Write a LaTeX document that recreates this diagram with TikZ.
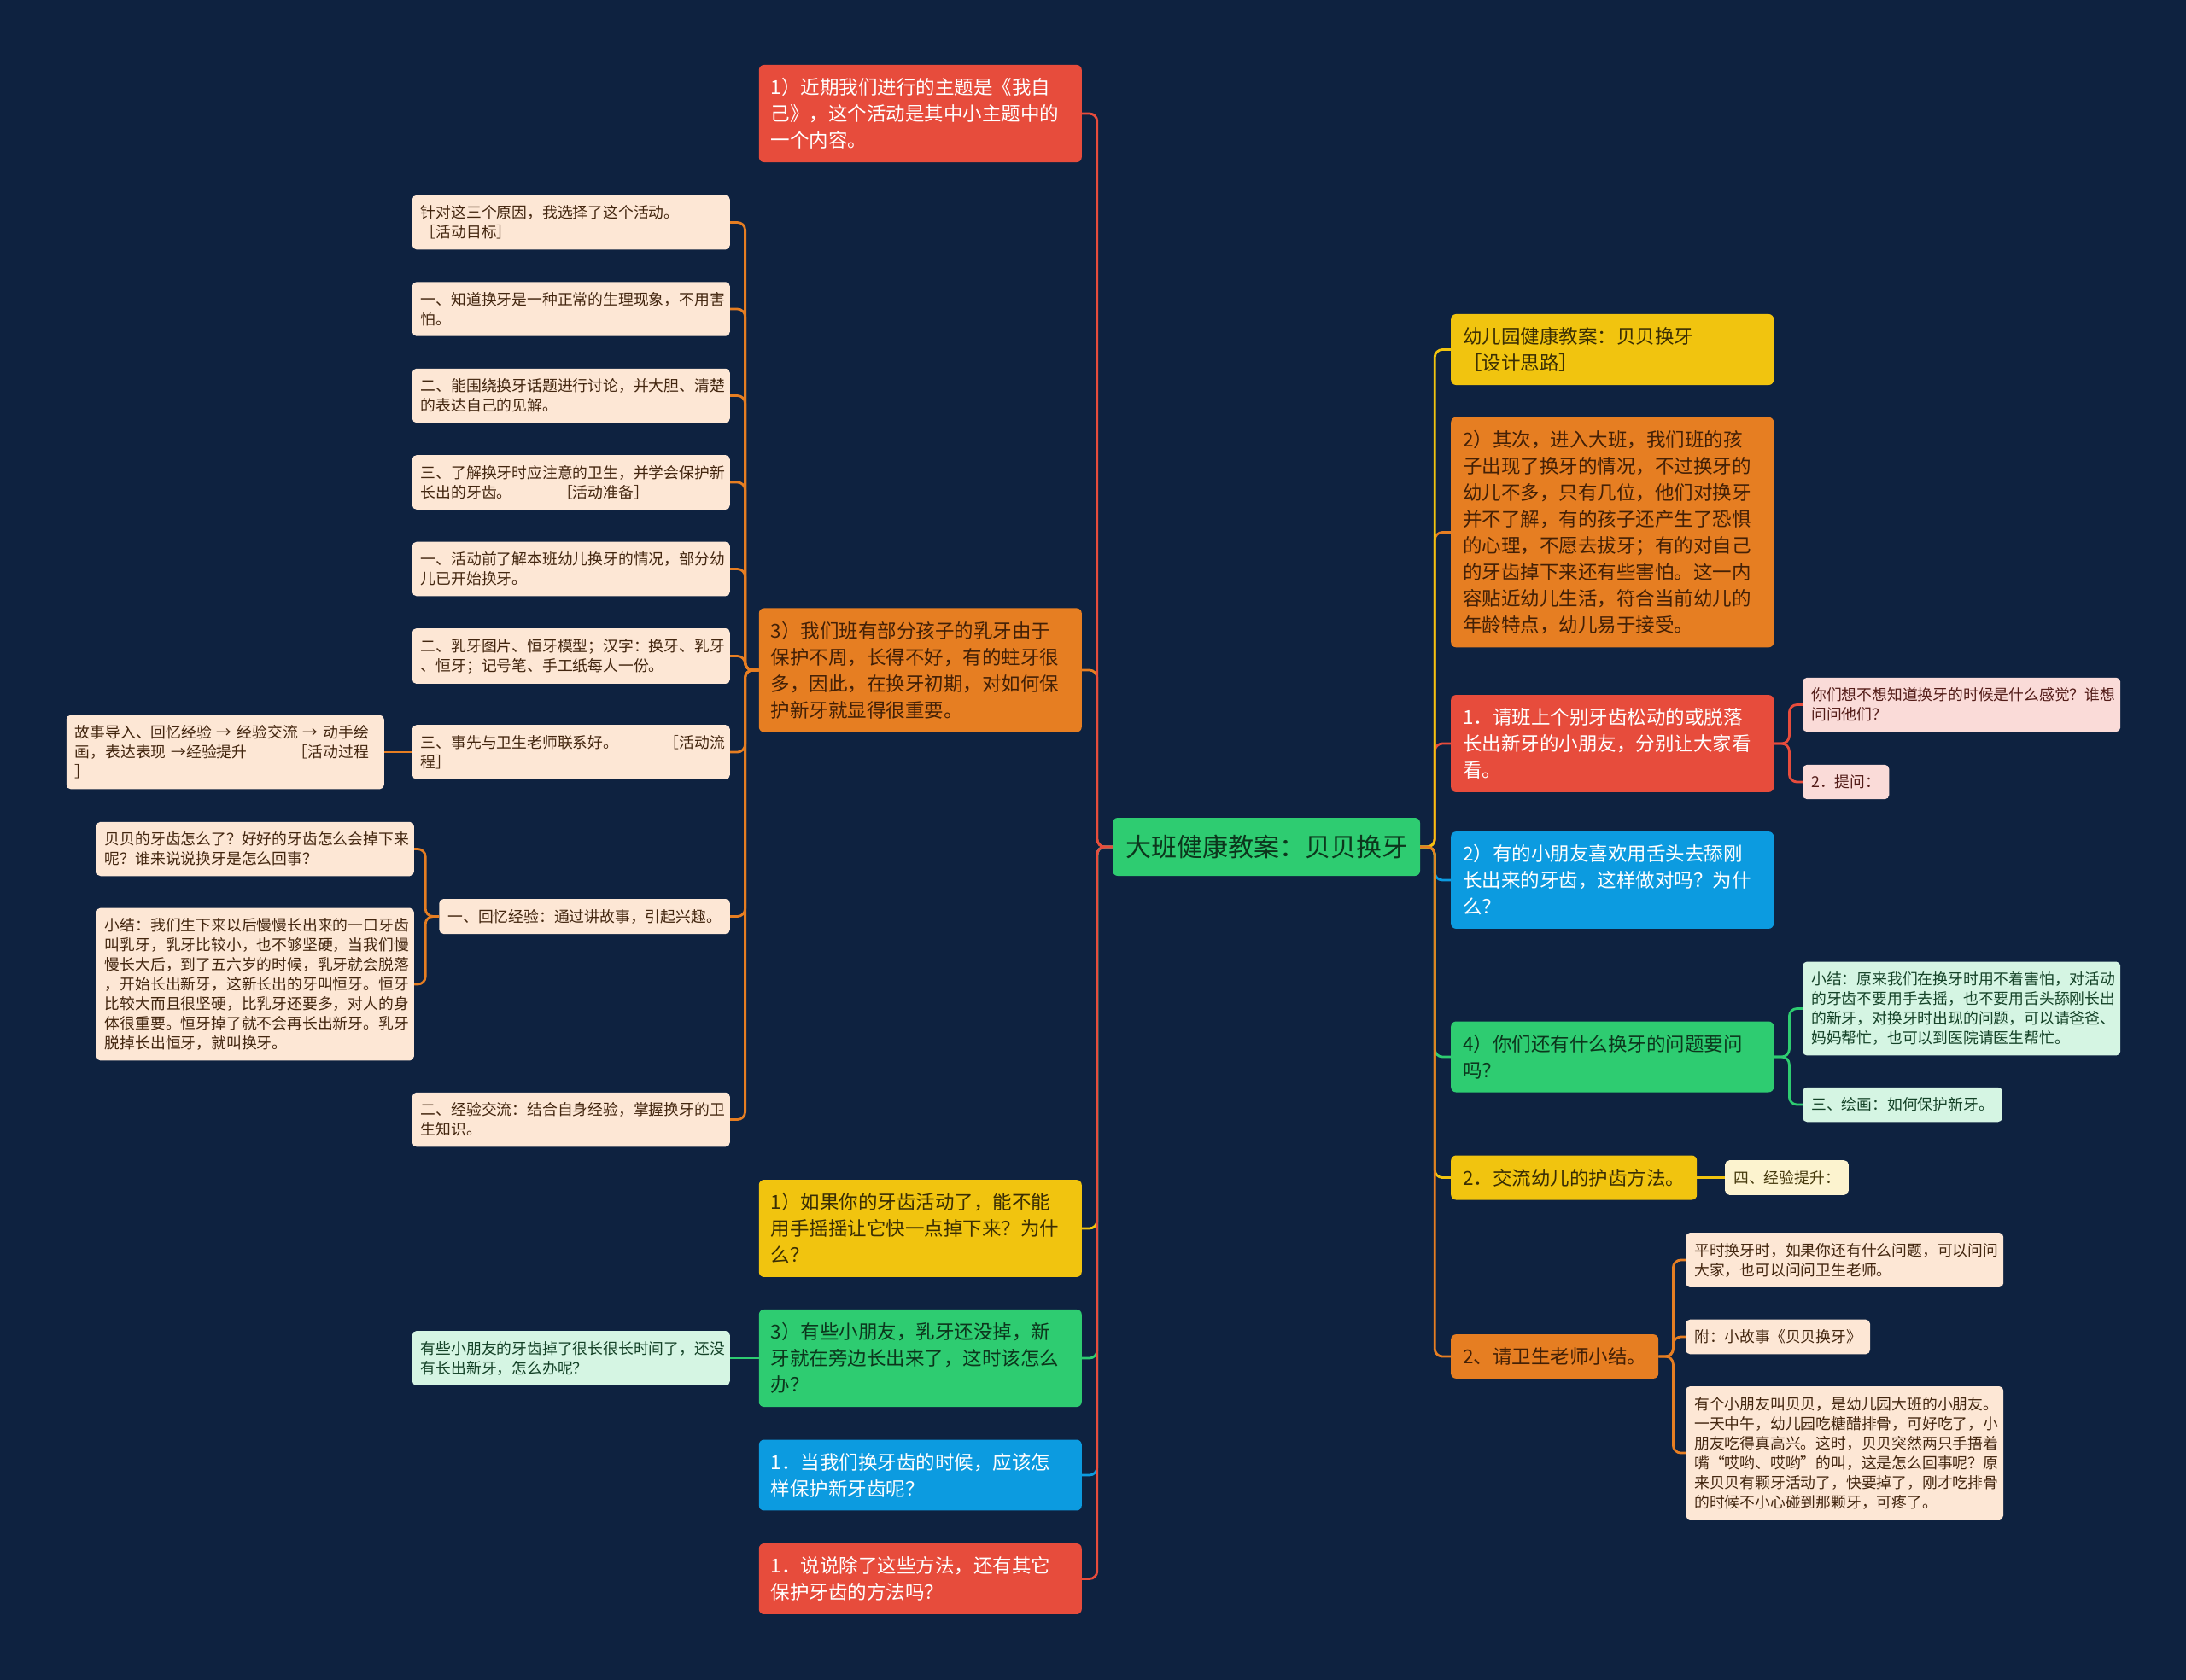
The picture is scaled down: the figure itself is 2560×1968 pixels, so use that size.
\documentclass[tikz,border=0pt]{standalone}
\usepackage{fontspec}
\setmainfont{Noto Sans CJK SC}
\usepackage{xcolor}
\usepackage{tikz}
\definecolor{cBg}{HTML}{0E2240}
\definecolor{cRed}{HTML}{E74C3C}
\definecolor{cOrange}{HTML}{E67E22}
\definecolor{cYellow}{HTML}{F1C40F}
\definecolor{cGreen}{HTML}{2ECC71}
\definecolor{cBlue}{HTML}{0C9BE0}
\definecolor{cPeach}{HTML}{FDE7D5}
\definecolor{cPink}{HTML}{FADBD8}
\definecolor{cMint}{HTML}{D5F5E3}
\definecolor{cCream}{HTML}{FCF3CF}
\definecolor{tOrange}{HTML}{432006}
\definecolor{tYellow}{HTML}{3A2E04}
\definecolor{tGreen}{HTML}{0C361C}
\definecolor{tPeach}{HTML}{43260F}
\definecolor{tPink}{HTML}{521B17}
\definecolor{tMint}{HTML}{144227}
\definecolor{tCream}{HTML}{463A0D}

\begin{document}
\begin{tikzpicture}[x=1pt,y=-1pt,
  topic/.style={rounded corners=6pt,inner xsep=14pt,inner ysep=15.5pt,
                align=left,font=\fontsize{22.5}{31}\selectfont},
  tw/.style={text width=350pt},
  leaf/.style={rounded corners=5pt,inner xsep=10pt,inner ysep=12pt,
               align=left,font=\fontsize{17.8}{23}\selectfont},
  lw/.style={text width=352pt},
  ln/.style={line width=2.8pt,rounded corners=9pt}]
\fill[cBg] (0,0) rectangle (2560,1968);
% root
\node[rounded corners=6pt,inner xsep=15pt,inner ysep=20pt,fill=cGreen,text=tGreen,
      font=\fontsize{30}{36}\selectfont] (root) at (1483,992) {大班健康教案：贝贝换牙};
% left topics
\node[topic,tw,fill=cRed,text=white,anchor=east] (l1) at (1267,133)
  {1）近期我们进行的主题是《我自\\己》，这个活动是其中小主题中的\\一个内容。};
\node[topic,tw,fill=cOrange,text=tOrange,anchor=east] (l2) at (1267,785)
  {3）我们班有部分孩子的乳牙由于\\保护不周，长得不好，有的蛀牙很\\多，因此，在换牙初期，对如何保\\护新牙就显得很重要。};
\node[topic,tw,fill=cYellow,text=tYellow,anchor=east] (l3) at (1267,1439)
  {1）如果你的牙齿活动了，能不能\\用手摇摇让它快一点掉下来？为什\\么？};
\node[topic,tw,fill=cGreen,text=tGreen,anchor=east] (l4) at (1267,1591)
  {3）有些小朋友，乳牙还没掉，新\\牙就在旁边长出来了，这时该怎么\\办？};
\node[topic,tw,fill=cBlue,text=white,anchor=east] (l5) at (1267,1728)
  {1．当我们换牙齿的时候，应该怎\\样保护新牙齿呢？};
\node[topic,tw,fill=cRed,text=white,anchor=east] (l6) at (1267,1849.5)
  {1．说说除了这些方法，还有其它\\保护牙齿的方法吗？};
% right topics
\node[topic,tw,fill=cYellow,text=tYellow,anchor=west] (r1) at (1699,409.5)
  {幼儿园健康教案：贝贝换牙\\［设计思路］};
\node[topic,tw,fill=cOrange,text=tOrange,anchor=west] (r2) at (1699,623.5)
  {2）其次，进入大班，我们班的孩\\子出现了换牙的情况，不过换牙的\\幼儿不多，只有几位，他们对换牙\\并不了解，有的孩子还产生了恐惧\\的心理，不愿去拔牙；有的对自己\\的牙齿掉下来还有些害怕。这一内\\容贴近幼儿生活，符合当前幼儿的\\年龄特点，幼儿易于接受。};
\node[topic,tw,fill=cRed,text=white,anchor=west] (r3) at (1699,871)
  {1．请班上个别牙齿松动的或脱落\\长出新牙的小朋友，分别让大家看\\看。};
\node[topic,tw,fill=cBlue,text=white,anchor=west] (r4) at (1699,1031)
  {2）有的小朋友喜欢用舌头去舔刚\\长出来的牙齿，这样做对吗？为什\\么？};
\node[topic,tw,fill=cGreen,text=tGreen,anchor=west] (r5) at (1699,1238)
  {4）你们还有什么换牙的问题要问\\吗？};
\node[topic,fill=cYellow,text=tYellow,anchor=west] (r6) at (1699,1379.5)
  {2．交流幼儿的护齿方法。};
\node[topic,fill=cOrange,text=tOrange,anchor=west] (r7) at (1699,1589)
  {2、请卫生老师小结。};
% leaves of l2
\node[leaf,lw,fill=cPeach,text=tPeach,anchor=east] (c1) at (855,260.5)
  {针对这三个原因，我选择了这个活动。\\［活动目标］};
\node[leaf,lw,fill=cPeach,text=tPeach,anchor=east] (c2) at (855,362)
  {一、知道换牙是一种正常的生理现象，不用害\\怕。};
\node[leaf,lw,fill=cPeach,text=tPeach,anchor=east] (c3) at (855,463.5)
  {二、能围绕换牙话题进行讨论，并大胆、清楚\\的表达自己的见解。};
\node[leaf,lw,fill=cPeach,text=tPeach,anchor=east] (c4) at (855,565)
  {三、了解换牙时应注意的卫生，并学会保护新\\长出的牙齿。　　　［活动准备］};
\node[leaf,lw,fill=cPeach,text=tPeach,anchor=east] (c5) at (855,666.5)
  {一、活动前了解本班幼儿换牙的情况，部分幼\\儿已开始换牙。};
\node[leaf,lw,fill=cPeach,text=tPeach,anchor=east] (c6) at (855,768.5)
  {二、乳牙图片、恒牙模型；汉字：换牙、乳牙\\、恒牙；记号笔、手工纸每人一份。};
\node[leaf,lw,fill=cPeach,text=tPeach,anchor=east] (c7) at (855,881)
  {三、事先与卫生老师联系好。　　　［活动流\\程］};
\node[leaf,fill=cPeach,text=tPeach,anchor=east] (c8) at (855,1073.5)
  {一、回忆经验：通过讲故事，引起兴趣。};
\node[leaf,lw,fill=cPeach,text=tPeach,anchor=east] (c9) at (855,1311.5)
  {二、经验交流：结合自身经验，掌握换牙的卫\\生知识。};
\node[leaf,lw,fill=cPeach,text=tPeach,anchor=east] (g3) at (450,881)
  {故事导入、回忆经验 → 经验交流 → 动手绘\\画，表达表现 →经验提升　　　［活动过程\\］};
\node[leaf,lw,fill=cPeach,text=tPeach,anchor=east] (g1) at (485,994.5)
  {贝贝的牙齿怎么了？好好的牙齿怎么会掉下来\\呢？谁来说说换牙是怎么回事？};
\node[leaf,lw,fill=cPeach,text=tPeach,anchor=east] (g2) at (485,1153)
  {小结：我们生下来以后慢慢长出来的一口牙齿\\叫乳牙，乳牙比较小，也不够坚硬，当我们慢\\慢长大后，到了五六岁的时候，乳牙就会脱落\\，开始长出新牙，这新长出的牙叫恒牙。恒牙\\比较大而且很坚硬，比乳牙还要多，对人的身\\体很重要。恒牙掉了就不会再长出新牙。乳牙\\脱掉长出恒牙，就叫换牙。};
\node[leaf,lw,fill=cMint,text=tMint,anchor=east] (k1) at (855,1591)
  {有些小朋友的牙齿掉了很长很长时间了，还没\\有长出新牙，怎么办呢？};
% right leaves
\node[leaf,lw,fill=cPink,text=tPink,anchor=west] (p1) at (2111,825.5)
  {你们想不想知道换牙的时候是什么感觉？谁想\\问问他们？};
\node[leaf,fill=cPink,text=tPink,anchor=west] (p2) at (2111,916) {2．提问：};
\node[leaf,lw,fill=cMint,text=tMint,anchor=west] (m1) at (2111,1181.5)
  {小结：原来我们在换牙时用不着害怕，对活动\\的牙齿不要用手去摇，也不要用舌头舔刚长出\\的新牙，对换牙时出现的问题，可以请爸爸、\\妈妈帮忙，也可以到医院请医生帮忙。};
\node[leaf,fill=cMint,text=tMint,anchor=west] (m2) at (2111,1294) {三、绘画：如何保护新牙。};
\node[leaf,fill=cCream,text=tCream,anchor=west] (y1) at (2020,1379.5) {四、经验提升：};
\node[leaf,lw,fill=cPeach,text=tPeach,anchor=west] (q1) at (1974,1476)
  {平时换牙时，如果你还有什么问题，可以问问\\大家，也可以问问卫生老师。};
\node[leaf,fill=cPeach,text=tPeach,anchor=west] (q2) at (1974,1566) {附：小故事《贝贝换牙》};
\node[leaf,lw,fill=cPeach,text=tPeach,anchor=west] (q3) at (1974,1702)
  {有个小朋友叫贝贝，是幼儿园大班的小朋友。\\一天中午，幼儿园吃糖醋排骨，可好吃了，小\\朋友吃得真高兴。这时，贝贝突然两只手捂着\\嘴“哎哟、哎哟”的叫，这是怎么回事呢？原\\来贝贝有颗牙活动了，快要掉了，刚才吃排骨\\的时候不小心碰到那颗牙，可疼了。};
% connectors
\foreach \n/\c in {l2/cOrange,l3/cYellow,l4/cGreen,l5/cBlue,l1/cRed,l6/cRed}
  \draw[ln,\c] (root.west) -- ++(-18,0) |- (\n.east);
\foreach \n/\c in {r2/cOrange,r3/cRed,r4/cBlue,r5/cGreen,r1/cYellow,r6/cYellow,r7/cOrange}
  \draw[ln,\c] (root.east) -- ++(17,0) |- (\n.west);
\foreach \n in {c1,c2,c3,c4,c5,c6,c7,c8,c9}
  \draw[ln,cOrange] (l2.west) -- ++(-16,0) |- (\n.east);
\foreach \n in {g1,g2}
  \draw[ln,cOrange] (c8.west) -- ++(-16,0) |- (\n.east);
\draw[ln,cOrange] (c7.west) -- (g3.east);
\draw[ln,cGreen] (l4.west) -- (k1.east);
\foreach \n in {p1,p2}
  \draw[ln,cRed] (r3.east) -- ++(18,0) |- (\n.west);
\foreach \n in {m1,m2}
  \draw[ln,cGreen] (r5.east) -- ++(18,0) |- (\n.west);
\draw[ln,cYellow] (r6.east) -- (y1.west);
\foreach \n in {q1,q2,q3}
  \draw[ln,cOrange] (r7.east) -- ++(17,0) |- (\n.west);
\end{tikzpicture}
\end{document}
